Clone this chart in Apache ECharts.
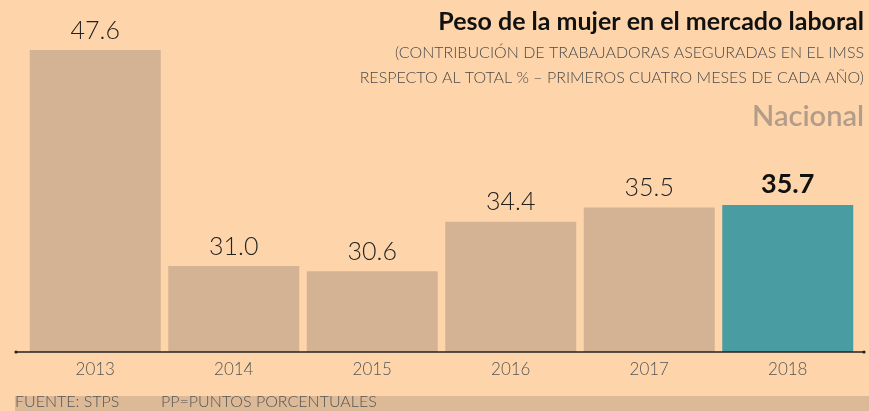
<!DOCTYPE html>
<html lang="es">

<head>
    <meta charset="UTF-8">
    <title>Peso de la mujer en el mercado laboral</title>
    <script src="https://cdn.jsdelivr.net/npm/echarts@6/dist/echarts.min.js"></script>
    <style>
        html, body { margin: 0; padding: 0; background: #fed5ab; }
        #chart { width: 869px; height: 411px; }
    </style>
</head>

<body>
    <div id="chart"></div>
</body>

</html>
<script>
    // datos
    const years = ['2013', '2014', '2015', '2016', '2017', '2018'];
    const values = [47.6, 31.0, 30.6, 34.4, 35.5, 35.7];
    const highlightYear = '2018';

    const titleText = 'Peso de la mujer en el mercado laboral';
    const subLines = [
        '(CONTRIBUCIÓN DE TRABAJADORAS ASEGURADAS EN EL IMSS',
        'RESPECTO AL TOTAL % – PRIMEROS CUATRO MESES DE CADA AÑO)'
    ];
    const regionText = 'Nacional';
    const footerLeft = 'FUENTE: STPS';
    const footerRight = 'PP=PUNTOS PORCENTUALES';

    (function () {
        const font = 'Lato, "Open Sans", sans-serif';
        let myChart = echarts.init(document.getElementById('chart'));

        let barData = values.map(function (v, i) {
            let hi = years[i] === highlightYear;
            return {
                value: v,
                itemStyle: { color: hi ? '#4a9ca3' : '#d4b294' },
                label: hi ? { fontWeight: 'bold', color: '#111', fontSize: 27 } : {}
            };
        });

        let option = {
            backgroundColor: '#fed5ab',
            animation: false,
            grid: { left: 26, right: 12, top: 50, bottom: 59 },
            xAxis: {
                type: 'category',
                data: years,
                axisLine: { show: false },
                axisTick: { show: false },
                axisLabel: {
                    color: '#555',
                    fontFamily: font,
                    fontWeight: 300,
                    fontSize: 17,
                    margin: 9
                }
            },
            yAxis: {
                type: 'value',
                min: 24.4,
                max: 47.6,
                show: false,
                splitLine: { show: false }
            },
            series: [{
                type: 'bar',
                data: barData,
                barWidth: 131,
                label: {
                    show: true,
                    position: 'top',
                    distance: 7,
                    fontFamily: font,
                    fontWeight: 300,
                    fontSize: 25,
                    color: '#222',
                    formatter: function (p) { return p.value.toFixed(1); }
                }
            }],
            graphic: [
                // linea del eje
                { type: 'line', shape: { x1: 16, y1: 352, x2: 864, y2: 352 }, style: { stroke: '#222', lineWidth: 1.5 }, z: 10 },
                { type: 'circle', shape: { cx: 16, cy: 352, r: 1.6 }, style: { fill: '#222' }, z: 10 },
                { type: 'circle', shape: { cx: 864, cy: 352, r: 1.6 }, style: { fill: '#222' }, z: 10 },
                // titulo
                {
                    type: 'text', right: 5, top: 9,
                    style: { text: titleText, font: 'bold 25px ' + font, fill: '#111' }
                },
                {
                    type: 'text', right: 5, top: 45,
                    style: { text: subLines[0], font: '300 16px ' + font, fill: '#4a4a4a' }
                },
                {
                    type: 'text', right: 5, top: 70,
                    style: { text: subLines[1], font: '300 16px ' + font, fill: '#4a4a4a' }
                },
                {
                    type: 'text', right: 5, top: 102,
                    style: { text: regionText, font: '600 29px ' + font, fill: '#b39c89' }
                },
                // pie
                { type: 'rect', shape: { x: 15, y: 396, width: 854, height: 15 }, style: { fill: '#dcba98' } },
                {
                    type: 'text', left: 15, top: 394,
                    style: { text: footerLeft, font: '300 16px ' + font, fill: '#555' }
                },
                {
                    type: 'text', left: 161, top: 394,
                    style: { text: footerRight, font: '300 16px ' + font, fill: '#555' }
                }
            ]
        };
        myChart.setOption(option);
    })()
</script>
